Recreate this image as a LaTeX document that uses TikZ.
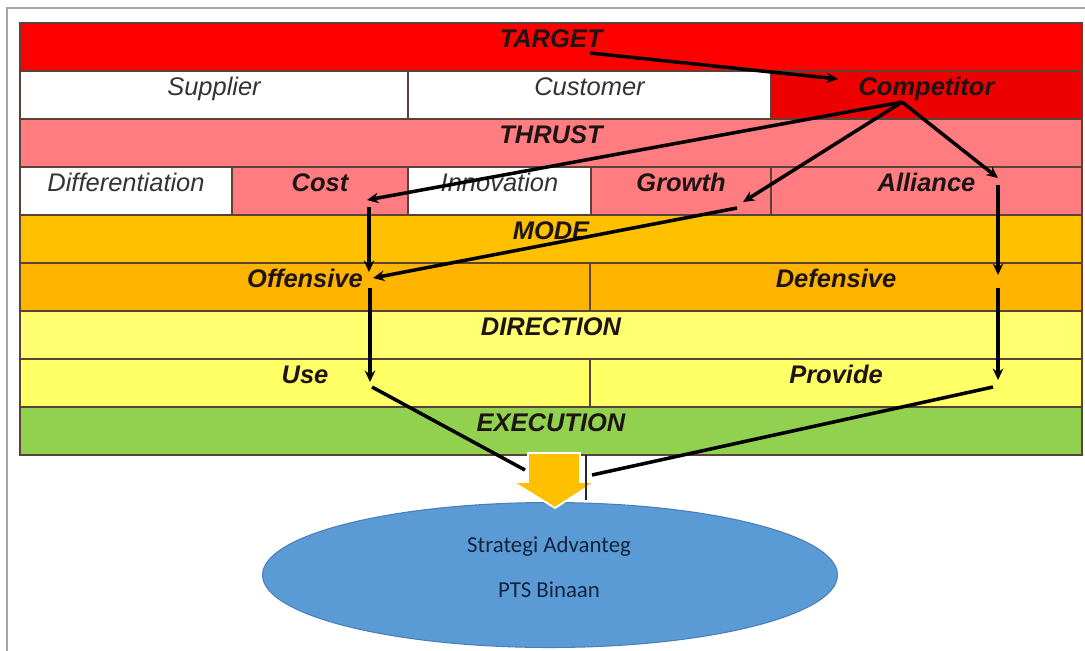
\documentclass[tikz,border=0pt]{standalone}
\usepackage{fontspec}
\setmainfont{Liberation Sans}
\newfontfamily\ellfont{Carlito}
\usetikzlibrary{shapes.geometric, arrows, arrows.meta}
\definecolor{tgtred}{HTML}{FF0000}
\definecolor{cmpred}{HTML}{EC0000}
\definecolor{thrpink}{HTML}{FF7C80}
\definecolor{modeor}{HTML}{FFC000}
\definecolor{offor}{HTML}{FFB400}
\definecolor{diryel}{HTML}{FFFF70}
\definecolor{useyel}{HTML}{FFFF66}
\definecolor{exgreen}{HTML}{92D050}
\definecolor{ellblue}{HTML}{5B9BD5}
\definecolor{ellline}{HTML}{4A7EBB}
\definecolor{edge}{HTML}{5A4238}
\definecolor{plain}{HTML}{333333}
\definecolor{dark}{HTML}{1E1414}
\definecolor{navy}{HTML}{15233F}
\tikzstyle{cell} = [rectangle, draw=edge, line width=0.7pt, minimum height=0.96cm, inner sep=0pt, text height=7pt, text depth=6pt, font=\fontsize{14.5}{17}\selectfont\itshape, text=plain]
\tikzstyle{head} = [cell, font=\fontsize{14.5}{17}\selectfont\bfseries\itshape, text=dark]
\tikzstyle{result} = [ellipse, fill=ellblue, draw=ellline, line width=0.6pt, minimum width=11.5cm, minimum height=2.9cm]
\tikzstyle{caption} = [align=center, font=\ellfont\fontsize{13}{26}\selectfont, text=navy]
\tikzstyle{arrow} = [line width=2pt,->,>={Stealth[length=6.5pt,width=6pt]}]
\tikzstyle{link} = [line width=2pt]

\begin{document}
\begin{tikzpicture}[x=0.02cm, y=-0.02cm]
    \useasboundingbox (0,0) rectangle (1085,650);
    \draw [gray!70, line width=1.2pt] (7,660) -- (7,8) -- (1095,8);
    % table rows
    \node [head, fill=tgtred, minimum width=21.24cm] at (551,47) (target) {TARGET};
    \node [cell, fill=white, minimum width=7.76cm] at (214,95) (supplier) {Supplier};
    \node [cell, fill=white, minimum width=7.26cm] at (589.5,95) (customer) {Customer};
    \node [head, fill=cmpred, minimum width=6.22cm] at (926.5,95) (competitor) {Competitor};
    \node [head, fill=thrpink, minimum width=21.24cm] at (551,143) (thrust) {THRUST};
    \node [cell, fill=white, minimum width=4.24cm] at (126,191) (diff) {Differentiation};
    \node [head, fill=thrpink, minimum width=3.52cm] at (320,191) (cost) {Cost};
    \node [cell, fill=white, minimum width=3.66cm] at (499.5,191) (innov) {Innovation};
    \node [head, fill=thrpink, minimum width=3.6cm] at (681,191) (growth) {Growth};
    \node [head, fill=thrpink, minimum width=6.22cm] at (926.5,191) (alliance) {Alliance};
    \node [head, fill=modeor, minimum width=21.24cm] at (551,239) (mode) {MODE};
    \node [head, fill=offor, minimum width=11.4cm] at (305,287) (offensive) {Offensive};
    \node [head, fill=offor, minimum width=9.84cm] at (836,287) (defensive) {Defensive};
    \node [head, fill=diryel, minimum width=21.24cm] at (551,335) (direction) {DIRECTION};
    \node [head, fill=useyel, minimum width=11.4cm] at (305,383) (use) {Use};
    \node [head, fill=useyel, minimum width=9.84cm] at (836,383) (provide) {Provide};
    \node [head, fill=exgreen, minimum width=21.24cm] at (551,431) (execution) {EXECUTION};
    \node [result] at (550,575) (advantage) {};
    \node [caption] at (549,567) (advtext) {Strategi Advanteg\\PTS Binaan};
    % arrow ends
    \coordinate (tgtfrom) at (590,53);
    \coordinate (cmpto) at (838,79);
    \coordinate (cmpfrom) at (902,102);
    \coordinate (costto) at (367,200);
    \coordinate (growto) at (743,202);
    \coordinate (allto) at (998,178);
    \coordinate (costfrom) at (369,207);
    \coordinate (offto) at (369,272);
    \coordinate (growfrom) at (737,208);
    \coordinate (offto2) at (373,278);
    \coordinate (offfrom) at (370,288);
    \coordinate (useto) at (370,382);
    \coordinate (allfrom) at (998,185);
    \coordinate (defto) at (998,275);
    \coordinate (deffrom) at (998,288);
    \coordinate (provto) at (998,380);
    \coordinate (usefrom) at (372,387);
    \coordinate (provfrom) at (993,387);
    \coordinate (exleft) at (525,470);
    \coordinate (exright) at (592,475);
    \coordinate (stubtop) at (586,455);
    \coordinate (stubbot) at (586,500);
    \draw [arrow] (tgtfrom) -- (cmpto);
    \draw [arrow] (cmpfrom) -- (costto);
    \draw [arrow] (cmpfrom) -- (growto);
    \draw [arrow] (cmpfrom) -- (allto);
    \draw [arrow] (costfrom) -- (offto);
    \draw [arrow] (growfrom) -- (offto2);
    \draw [arrow] (offfrom) -- (useto);
    \draw [arrow] (allfrom) -- (defto);
    \draw [arrow] (deffrom) -- (provto);
    \draw [link] (usefrom) -- (exleft);
    \draw [link] (provfrom) -- (exright);
    % block arrow into the ellipse
    \draw [fill=modeor, draw=white, line width=1pt] (528,453) -- (580,453) -- (580,482) -- (595,482) -- (555,508) -- (513,482) -- (528,482) -- cycle;
    \draw [line width=1.4pt, black!85] (stubtop) -- (stubbot);
\end{tikzpicture}
\end{document}
